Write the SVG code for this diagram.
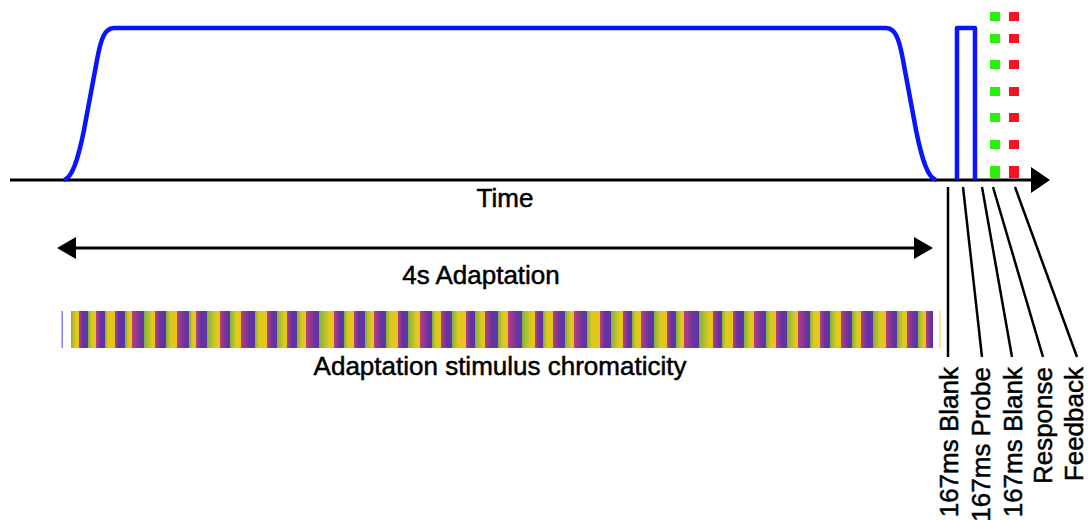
<svg xmlns="http://www.w3.org/2000/svg" width="1088" height="520" viewBox="0 0 1088 520">
<style>
text{font-family:"Liberation Sans",Arial,sans-serif;font-size:26px;fill:#000;stroke:#000;stroke-width:0.5}
.ln{stroke:#000;stroke-width:2.5;fill:none}
.g{stop-color:#78b444}.y{stop-color:#e2c81c}.m{stop-color:#c03c7c}.p{stop-color:#6034a4}
</style>
<defs>
<linearGradient id="chrom" gradientUnits="userSpaceOnUse" x1="0" y1="0" x2="1000" y2="0">
<stop offset=".071" stop-color="#9aaa3a"/><stop offset=".076" class="y"/><stop offset=".079" class="y"/><stop offset=".079" class="m"/><stop offset=".083" class="p"/><stop offset=".088" class="p"/>
<stop offset=".088" class="g"/><stop offset=".092" class="y"/><stop offset=".096" class="y"/><stop offset=".096" class="m"/><stop offset=".101" class="p"/><stop offset=".105" class="p"/>
<stop offset=".105" class="g"/><stop offset=".108" class="y"/><stop offset=".115" class="y"/><stop offset=".115" class="m"/><stop offset=".119" class="p"/><stop offset=".125" class="p"/>
<stop offset=".125" class="g"/><stop offset=".129" class="y"/><stop offset=".132" class="y"/><stop offset=".132" class="m"/><stop offset=".142" class="p"/><stop offset=".144" class="p"/>
<stop offset=".144" class="g"/><stop offset=".152" class="y"/><stop offset=".155" class="y"/><stop offset=".155" class="m"/><stop offset=".161" class="p"/><stop offset=".166" class="p"/>
<stop offset=".166" class="g"/><stop offset=".171" class="y"/><stop offset=".177" class="y"/><stop offset=".177" class="m"/><stop offset=".185" class="p"/><stop offset=".189" class="p"/>
<stop offset=".189" class="g"/><stop offset=".193" class="y"/><stop offset=".196" class="y"/><stop offset=".196" class="m"/><stop offset=".201" class="p"/><stop offset=".207" class="p"/>
<stop offset=".207" class="g"/><stop offset=".216" class="y"/><stop offset=".220" class="y"/><stop offset=".220" class="m"/><stop offset=".227" class="p"/><stop offset=".230" class="p"/>
<stop offset=".230" class="g"/><stop offset=".236" class="y"/><stop offset=".241" class="y"/><stop offset=".241" class="m"/><stop offset=".250" class="p"/><stop offset=".255" class="p"/>
<stop offset=".255" class="g"/><stop offset=".259" class="y"/><stop offset=".267" class="y"/><stop offset=".267" class="m"/><stop offset=".273" class="p"/><stop offset=".277" class="p"/>
<stop offset=".277" class="g"/><stop offset=".284" class="y"/><stop offset=".287" class="y"/><stop offset=".287" class="m"/><stop offset=".292" class="p"/><stop offset=".297" class="p"/>
<stop offset=".297" class="g"/><stop offset=".302" class="y"/><stop offset=".306" class="y"/><stop offset=".306" class="m"/><stop offset=".316" class="p"/><stop offset=".319" class="p"/>
<stop offset=".319" class="g"/><stop offset=".329" class="y"/><stop offset=".334" class="y"/><stop offset=".334" class="m"/><stop offset=".340" class="p"/><stop offset=".344" class="p"/>
<stop offset=".344" class="g"/><stop offset=".348" class="y"/><stop offset=".354" class="y"/><stop offset=".354" class="m"/><stop offset=".359" class="p"/><stop offset=".365" class="p"/>
<stop offset=".365" class="g"/><stop offset=".371" class="y"/><stop offset=".374" class="y"/><stop offset=".374" class="m"/><stop offset=".382" class="p"/><stop offset=".386" class="p"/>
<stop offset=".386" class="g"/><stop offset=".391" class="y"/><stop offset=".398" class="y"/><stop offset=".398" class="m"/><stop offset=".403" class="p"/><stop offset=".408" class="p"/>
<stop offset=".408" class="g"/><stop offset=".416" class="y"/><stop offset=".420" class="y"/><stop offset=".420" class="m"/><stop offset=".429" class="p"/><stop offset=".432" class="p"/>
<stop offset=".432" class="g"/><stop offset=".436" class="y"/><stop offset=".441" class="y"/><stop offset=".441" class="m"/><stop offset=".447" class="p"/><stop offset=".452" class="p"/>
<stop offset=".452" class="g"/><stop offset=".458" class="y"/><stop offset=".466" class="y"/><stop offset=".466" class="m"/><stop offset=".471" class="p"/><stop offset=".475" class="p"/>
<stop offset=".475" class="g"/><stop offset=".482" class="y"/><stop offset=".485" class="y"/><stop offset=".485" class="m"/><stop offset=".492" class="p"/><stop offset=".498" class="p"/>
<stop offset=".498" class="g"/><stop offset=".503" class="y"/><stop offset=".508" class="y"/><stop offset=".508" class="m"/><stop offset=".518" class="p"/><stop offset=".522" class="p"/>
<stop offset=".522" class="g"/><stop offset=".531" class="y"/><stop offset=".535" class="y"/><stop offset=".535" class="m"/><stop offset=".540" class="p"/><stop offset=".543" class="p"/>
<stop offset=".543" class="g"/><stop offset=".547" class="y"/><stop offset=".553" class="y"/><stop offset=".553" class="m"/><stop offset=".560" class="p"/><stop offset=".565" class="p"/>
<stop offset=".565" class="g"/><stop offset=".571" class="y"/><stop offset=".574" class="y"/><stop offset=".574" class="m"/><stop offset=".583" class="p"/><stop offset=".587" class="p"/>
<stop offset=".587" class="g"/><stop offset=".592" class="y"/><stop offset=".600" class="y"/><stop offset=".600" class="m"/><stop offset=".605" class="p"/><stop offset=".611" class="p"/>
<stop offset=".611" class="g"/><stop offset=".619" class="y"/><stop offset=".623" class="y"/><stop offset=".623" class="m"/><stop offset=".629" class="p"/><stop offset=".632" class="p"/>
<stop offset=".632" class="g"/><stop offset=".636" class="y"/><stop offset=".641" class="y"/><stop offset=".641" class="m"/><stop offset=".649" class="p"/><stop offset=".654" class="p"/>
<stop offset=".654" class="g"/><stop offset=".661" class="y"/><stop offset=".667" class="y"/><stop offset=".667" class="m"/><stop offset=".672" class="p"/><stop offset=".676" class="p"/>
<stop offset=".676" class="g"/><stop offset=".681" class="y"/><stop offset=".684" class="y"/><stop offset=".684" class="m"/><stop offset=".694" class="p"/><stop offset=".699" class="p"/>
<stop offset=".699" class="g"/><stop offset=".709" class="y"/><stop offset=".713" class="y"/><stop offset=".713" class="m"/><stop offset=".719" class="p"/><stop offset=".722" class="p"/>
<stop offset=".722" class="g"/><stop offset=".726" class="y"/><stop offset=".733" class="y"/><stop offset=".733" class="m"/><stop offset=".738" class="p"/><stop offset=".744" class="p"/>
<stop offset=".744" class="g"/><stop offset=".750" class="y"/><stop offset=".754" class="y"/><stop offset=".754" class="m"/><stop offset=".762" class="p"/><stop offset=".766" class="p"/>
<stop offset=".766" class="g"/><stop offset=".771" class="y"/><stop offset=".776" class="y"/><stop offset=".776" class="m"/><stop offset=".782" class="p"/><stop offset=".787" class="p"/>
<stop offset=".787" class="g"/><stop offset=".795" class="y"/><stop offset=".798" class="y"/><stop offset=".798" class="m"/><stop offset=".807" class="p"/><stop offset=".810" class="p"/>
<stop offset=".810" class="g"/><stop offset=".814" class="y"/><stop offset=".820" class="y"/><stop offset=".820" class="m"/><stop offset=".825" class="p"/><stop offset=".830" class="p"/>
<stop offset=".830" class="g"/><stop offset=".836" class="y"/><stop offset=".841" class="y"/><stop offset=".841" class="m"/><stop offset=".848" class="p"/><stop offset=".852" class="p"/>
<stop offset=".852" class="g"/><stop offset=".857" class="y"/><stop offset=".861" class="y"/><stop offset=".861" class="m"/><stop offset=".867" class="p"/><stop offset=".873" class="p"/>
<stop offset=".873" class="g"/><stop offset=".880" class="y"/><stop offset=".886" class="y"/><stop offset=".886" class="m"/><stop offset=".894" class="p"/><stop offset=".897" class="p"/>
<stop offset=".897" class="g"/><stop offset=".903" class="y"/><stop offset=".907" class="y"/><stop offset=".907" class="m"/><stop offset=".914" class="p"/><stop offset=".918" class="p"/>
<stop offset=".918" class="g"/><stop offset=".923" class="y"/><stop offset=".926" class="y"/><stop offset=".926" class="m"/><stop offset=".931" class="p"/><stop offset=".933" class="p"/>
</linearGradient>
</defs>

<g id="time-axis">
<line x1="10" y1="180" x2="1033" y2="180" stroke="#000" stroke-width="3"/>
<polygon points="1031,167 1050,180 1031,193" fill="#000"/>
<text x="505" y="207" text-anchor="middle">Time</text>
</g>

<g id="adaptation-curve">
<path d="M64,180 C72,178 78,160 84,130 L97,60 C101,38 105,28 114,28 H886 C895,28 899,38 903,60 L916,130 C922,160 928,178 936,180" fill="none" stroke="#0a14ff" stroke-width="4.5" stroke-linejoin="round"/>
</g>

<g id="probe-pulse">
<path d="M957,180 V28 H975 V180" fill="none" stroke="#0a14ff" stroke-width="4.5" stroke-linejoin="round"/>
</g>

<g id="response-marker">
<path d="M995,12V21M995,34V43M995,60V69M995,87V96M995,113V122M995,140V149M995,166V178" stroke="#2cf00c" stroke-width="10"/>
</g>

<g id="feedback-marker">
<path d="M1014,12V21M1014,34V43M1014,60V69M1014,87V96M1014,113V122M1014,140V149M1014,166V178" stroke="#ff1020" stroke-width="10"/>
</g>

<g id="adaptation-span">
<line x1="72" y1="248" x2="918" y2="248" stroke="#000" stroke-width="3"/>
<polygon points="57,248 76,237 76,259" fill="#000"/>
<polygon points="933,248 914,237 914,259" fill="#000"/>
<text x="481" y="284" text-anchor="middle">4s Adaptation</text>
</g>

<g id="chromaticity">
<rect x="61.5" y="311" width="1.5" height="37" fill="#8080ff"/>
<rect x="71" y="311" width="862" height="37" fill="url(#chrom)"/>
<rect x="939" y="311" width="2" height="37" fill="#f8e890"/>
<text x="500" y="375" text-anchor="middle">Adaptation stimulus chromaticity</text>
</g>

<g id="connectors">
<line class="ln" x1="948" y1="187" x2="948" y2="357"/>
<line class="ln" x1="963" y1="187" x2="982" y2="357"/>
<line class="ln" x1="982" y1="187" x2="1012" y2="357"/>
<line class="ln" x1="993" y1="187" x2="1043" y2="357"/>
<line class="ln" x1="1015" y1="187" x2="1077" y2="357"/>
</g>

<g id="phase-labels">
<text transform="translate(958,367) rotate(-90)" text-anchor="end">167ms Blank</text>
<text transform="translate(990,367) rotate(-90)" text-anchor="end">167ms Probe</text>
<text transform="translate(1022,367) rotate(-90)" text-anchor="end">167ms Blank</text>
<text transform="translate(1052,367) rotate(-90)" text-anchor="end">Response</text>
<text transform="translate(1083,367) rotate(-90)" text-anchor="end">Feedback</text>
</g>
</svg>
